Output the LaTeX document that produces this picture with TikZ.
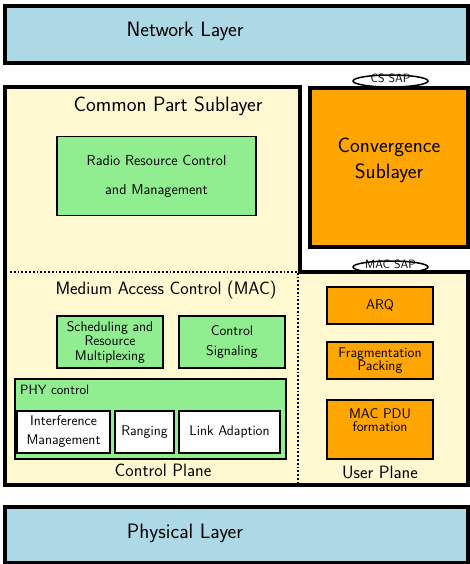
\documentclass[tikz,border=0pt]{standalone}
\usepackage{tikz}
\usetikzlibrary{positioning,shapes}
\renewcommand{\familydefault}{\sfdefault}
\definecolor{LayerBlue}{HTML}{ADD8E6}
\definecolor{CpsYellow}{HTML}{FFF8D0}
\definecolor{CtrlGreen}{HTML}{90EE90}
\definecolor{UserOrange}{HTML}{FFA500}
\newcommand{\bigtxt}{\fontsize{20.8}{26}\selectfont}
\newcommand{\midtxt}{\fontsize{17.9}{20}\selectfont}
\newcommand{\boxtxt}{\fontsize{14}{14.5}\selectfont}

\begin{document}
\begin{tikzpicture}[x=1pt,y=-1pt,
    layer/.style={draw=black,line width=3.5pt,fill=LayerBlue,inner sep=0pt},
    ctrlbox/.style={draw=black,line width=1.6pt,fill=CtrlGreen,align=center,inner sep=0pt,font=\boxtxt},
    userbox/.style={draw=black,line width=1.6pt,fill=UserOrange,align=center,inner sep=0pt,font=\boxtxt},
    phybox/.style={draw=black,line width=1.6pt,fill=white,align=center,inner sep=0pt,font=\boxtxt},
    sap/.style={ellipse,draw=black,line width=1.5pt,fill=white,inner sep=0pt,text height=3pt,text depth=0pt,
      minimum width=75pt,minimum height=12pt,font=\fontsize{12}{12}\selectfont}]
        \useasboundingbox (0,0) rectangle (470,564);
        % network layer
        \node[layer,minimum width=463pt,minimum height=57pt] (net) at (236.5,34.5) {};
        \node[font=\bigtxt] (nettxt) at (185,31.5) {Network Layer};
        % service access points
        \node[sap] (cssap) at (390.5,81) {CS SAP};
        \node[sap] (macsap) at (390.5,267) {MAC SAP};
        % common part sublayer
        \draw[line width=3.5pt,fill=CpsYellow] (5,87) -- (300,87) -- (300,272) -- (468,272)
          -- (468,485) -- (5,485) -- cycle;
        \node[font=\bigtxt] (cps) at (168,106.5) {Common Part Sublayer};
        \node[ctrlbox,minimum width=199pt,minimum height=79pt,
          font=\fontsize{14.5}{29}\selectfont] (rrc) at (156.5,176) {Radio Resource Control\\and Management};
        % convergence sublayer
        \node[layer,fill=UserOrange,minimum width=158pt,minimum height=159pt] (cs) at (389,167.5) {};
        \node[font=\bigtxt,align=center] (cstxt) at (389,160) {Convergence\\Sublayer};
        % planes
        \draw[dotted,line width=1.8pt] (10,272) -- (298,272) -- (298,485);
        \node[font=\midtxt] (mac) at (166,290.5) {Medium Access Control (MAC)};
        \node[ctrlbox,minimum width=106pt,minimum height=52pt] (sched) at (110,342)
          {Scheduling and\\Resource\\Multiplexing};
        \node[ctrlbox,minimum width=106pt,minimum height=52pt,
          font=\fontsize{14}{20}\selectfont] (sig) at (232,342) {Control\\Signaling};
        \node[ctrlbox,minimum width=271pt,minimum height=80pt] (phy) at (150.5,419) {};
        \node[font=\fontsize{13.5}{14}\selectfont,anchor=west,inner sep=0pt] (phytxt) at (20,390) {PHY control};
        \node[phybox,minimum width=93pt,minimum height=42pt,
          font=\fontsize{14}{19}\selectfont] (intf) at (63.5,432) {Interference\\Management};
        \node[phybox,minimum width=59pt,minimum height=42pt] (rng) at (144.5,432) {Ranging};
        \node[phybox,minimum width=101pt,minimum height=42pt] (link) at (229.5,432) {Link Adaption};
        \node[font=\midtxt] (cplane) at (163,470.5) {Control Plane};
        % user plane
        \node[userbox,minimum width=106pt,minimum height=37pt] (arq) at (380,305.5) {ARQ};
        \node[userbox,minimum width=106pt,minimum height=37pt,
          font=\fontsize{14}{13}\selectfont] (frag) at (380,360.5) {Fragmentation\\Packing};
        \node[userbox,minimum width=106pt,minimum height=59pt] (pdu) at (380,429.5) {};
        \node[font=\fontsize{14}{13}\selectfont,align=center] (pdutxt) at (380,420) {MAC PDU\\formation};
        \node[font=\midtxt] (uplane) at (380,472.5) {User Plane};
        % physical layer
        \node[layer,minimum width=463pt,minimum height=56pt] (phys) at (236.5,535) {};
        \node[font=\bigtxt] (phys txt) at (185,533.5) {Physical Layer};
      \end{tikzpicture}
\end{document}
